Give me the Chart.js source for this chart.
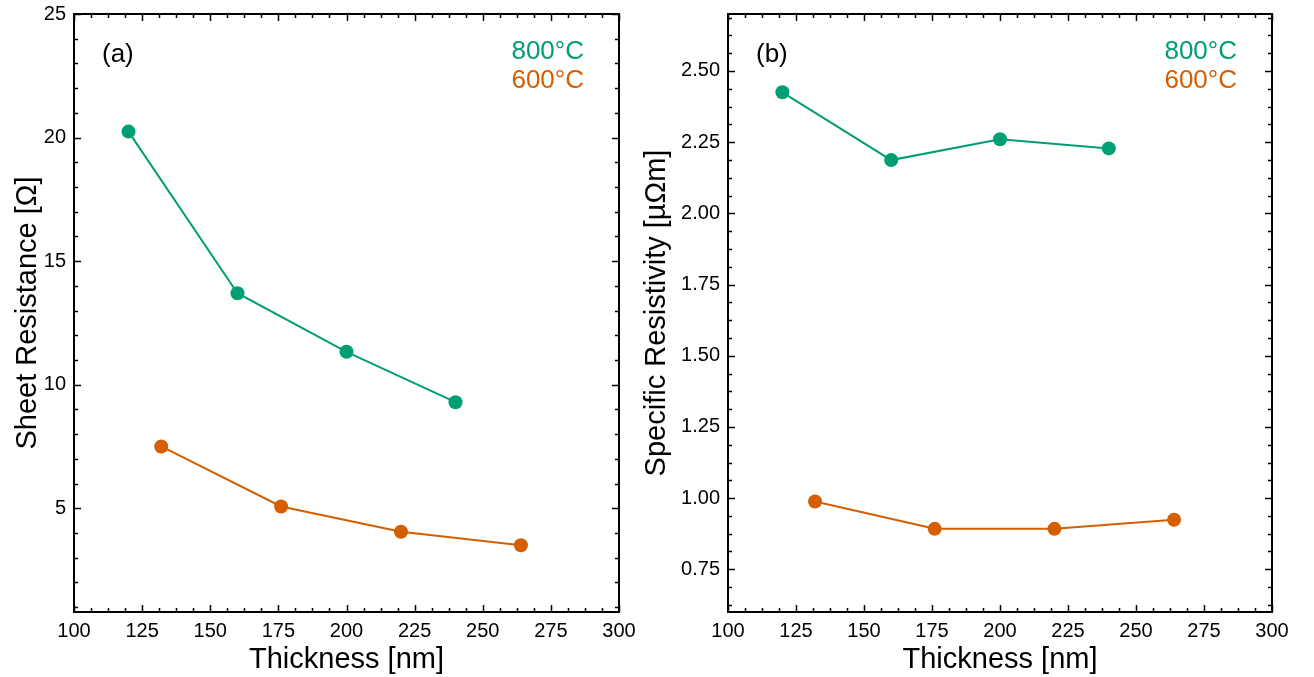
<!DOCTYPE html>
<html>
<head>
<meta charset="utf-8">
<title>Sheet resistance and resistivity vs thickness</title>
<script src="https://cdn.jsdelivr.net/npm/chart.js@4.4.1/dist/chart.umd.min.js"></script>
<style>
  html, body { margin: 0; padding: 0; background: #fff; }
  .panel { position: absolute; top: 0; height: 677px; }
  #wrapA { left: 0; width: 650px; }
  #wrapB { left: 632px; width: 682px; }
</style>
</head>
<body>
<div class="panel" id="wrapA"><canvas id="chartA"></canvas></div>
<div class="panel" id="wrapB"><canvas id="chartB"></canvas></div>
<script>
// ---- data ----
const thickness800 = [120, 160, 200, 240];
const thickness600 = [132, 176, 220, 264];

const sheet800 = [20.24, 13.7, 11.33, 9.29];
const sheet600 = [7.5, 5.07, 4.05, 3.5];

const resist800 = [2.425, 2.187, 2.26, 2.228];
const resist600 = [0.988, 0.892, 0.892, 0.924];

const xTicks = [100, 125, 150, 175, 200, 225, 250, 275, 300];
const yTicksA = [5, 10, 15, 20, 25];
const yTicksB = [0.75, 1.0, 1.25, 1.5, 1.75, 2.0, 2.25, 2.5];

const seriesNames = ['800°C', '600°C'];
const GREEN = '#009e73';
const ORANGE = '#d55e00';
const INK = '#000';

Chart.defaults.font.family = "'Liberation Sans', Arial, sans-serif";
Chart.defaults.color = INK;

const toPoints = (xs, ys) => xs.map((x, i) => ({ x: x, y: ys[i] }));

// frame box, inward major/minor ticks on all four sides, panel tag and series labels
const frameTicks = {
    id: 'frameTicks',
    afterDatasetsDraw(chart, args, opts) {
        const { ctx, chartArea: a, scales } = chart;
        ctx.save();
        ctx.strokeStyle = INK;
        ctx.lineWidth = 1.5;

        const mark = (scale, step, sub) => {
            const minor = step / sub;
            const first = Math.ceil(scale.min / minor - 1e-6);
            const last = Math.floor(scale.max / minor + 1e-6);
            for (let i = first; i <= last; i += 1) {
                const isMajor = i % sub === 0;
                const len = isMajor ? 7 : 4;
                const p = Math.round(scale.getPixelForValue(i * minor)) + 0.5;
                ctx.beginPath();
                if (scale.isHorizontal()) {
                    ctx.moveTo(p, a.bottom); ctx.lineTo(p, a.bottom - len);
                    ctx.moveTo(p, a.top); ctx.lineTo(p, a.top + len);
                } else {
                    ctx.moveTo(a.left, p); ctx.lineTo(a.left + len, p);
                    ctx.moveTo(a.right, p); ctx.lineTo(a.right - len, p);
                }
                ctx.stroke();
            }
        };
        mark(scales.x, opts.xStep, opts.xSub);
        mark(scales.y, opts.yStep, opts.ySub);

        ctx.lineWidth = 2;
        ctx.strokeRect(a.left, a.top, a.width, a.height);

        ctx.font = "26px 'Liberation Sans', Arial, sans-serif";
        ctx.textBaseline = 'middle';
        ctx.fillStyle = INK;
        ctx.textAlign = 'left';
        ctx.fillText(opts.tag, a.left + 28, 55);

        ctx.textAlign = 'right';
        ctx.fillStyle = GREEN;
        ctx.fillText(seriesNames[0], a.right - 35, 52);
        ctx.fillStyle = ORANGE;
        ctx.fillText(seriesNames[1], a.right - 35, 81);
        ctx.restore();
    }
};

function makePanel(canvasId, cfg) {
    const datasets = [
        { label: seriesNames[0], data: toPoints(thickness800, cfg.y800), color: GREEN },
        { label: seriesNames[1], data: toPoints(thickness600, cfg.y600), color: ORANGE }
    ].map((d) => ({
        label: d.label,
        data: d.data,
        showLine: true,
        borderColor: d.color,
        backgroundColor: d.color,
        borderWidth: 2,
        pointRadius: 7,
        pointHoverRadius: 7,
        pointBorderWidth: 0
    }));

    return new Chart(document.getElementById(canvasId), {
        type: 'scatter',
        data: { datasets: datasets },
        options: {
            responsive: true,
            maintainAspectRatio: false,
            animation: false,
            devicePixelRatio: 1,
            layout: { padding: { top: 14, right: cfg.padRight, bottom: 0, left: 0 } },
            plugins: {
                legend: { display: false },
                tooltip: { enabled: false },
                frameTicks: { tag: cfg.tag, xStep: 25, xSub: 4, yStep: cfg.yStep, ySub: cfg.ySub }
            },
            scales: {
                x: {
                    type: 'linear',
                    min: 100,
                    max: 300,
                    afterBuildTicks: (s) => { s.ticks = xTicks.map((v) => ({ value: v })); },
                    afterFit: (s) => { s.height = 65; s.paddingLeft = 0; s.paddingRight = 0; },
                    grid: { display: false, drawTicks: false },
                    border: { display: false },
                    ticks: { color: INK, font: { size: 20 }, padding: 7, maxRotation: 0, autoSkip: false },
                    title: { display: true, text: 'Thickness [nm]', color: INK, font: { size: 29 }, padding: 0 }
                },
                y: {
                    type: 'linear',
                    min: cfg.yMin,
                    max: cfg.yMax,
                    afterBuildTicks: (s) => { s.ticks = cfg.yTicks.map((v) => ({ value: v })); },
                    afterFit: (s) => { s.width = cfg.yWidth; s.paddingTop = 0; s.paddingBottom = 0; },
                    grid: { display: false, drawTicks: false },
                    border: { display: false },
                    ticks: { color: INK, font: { size: 20 }, padding: 8, autoSkip: false, callback: cfg.fmt },
                    title: { display: true, text: cfg.yTitle, color: INK, font: { size: 29 }, padding: { top: cfg.titlePad, bottom: 0 } }
                }
            }
        },
        plugins: [frameTicks]
    });
}

makePanel('chartA', {
    tag: '(a)',
    y800: sheet800,
    y600: sheet600,
    yMin: 0.8,
    yMax: 25,
    yTicks: yTicksA,
    yStep: 5,
    ySub: 5,
    yWidth: 74,
    padRight: 31,
    titlePad: 11,
    yTitle: 'Sheet Resistance [Ω]',
    fmt: (v) => String(v)
});

makePanel('chartB', {
    tag: '(b)',
    y800: resist800,
    y600: resist600,
    yMin: 0.6,
    yMax: 2.7,
    yTicks: yTicksB,
    yStep: 0.25,
    ySub: 4,
    yWidth: 96,
    padRight: 42,
    titlePad: 8,
    yTitle: 'Specific Resistivity [µΩm]',
    fmt: (v) => Number(v).toFixed(2)
});
</script>
</body>
</html>
